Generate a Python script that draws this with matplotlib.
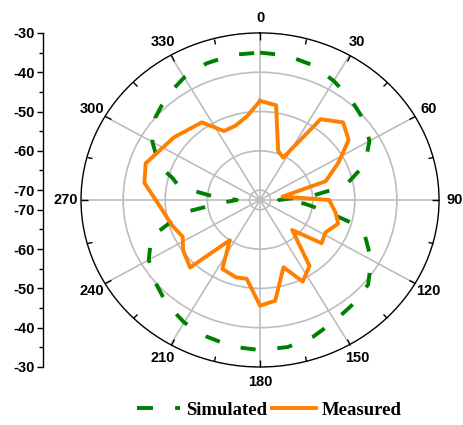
import numpy as np
import matplotlib
matplotlib.use("Agg")
import matplotlib.pyplot as plt
from matplotlib.lines import Line2D

# simulated pattern (deg, dB)
sim_deg = [0, 10, 20, 30, 40, 50, 60, 70, 80, 85, 90, 95, 100, 105, 110, 120,
           130, 140, 150, 160, 170, 180, 190, 200, 210, 220, 230, 240, 250,
           260, 265, 270, 275, 280, 285, 290, 300, 310, 320, 330, 340, 350, 360]
sim_db = [-35, -35.2, -36, -37.5, -39, -40.5, -42.5, -46, -52, -60, -68, -62,
          -57, -50, -46, -42, -39, -38, -37, -35.5, -34.5, -34.3, -34.6, -35.5,
          -36.5, -38, -40, -42, -45, -54, -63, -67, -61, -53, -51, -47, -43,
          -40, -38, -36.5, -35.5, -35, -35]

# measured pattern (deg, dB)
meas_deg = [0, 9, 19, 27, 35, 45, 54, 63, 73, 81, 90, 100, 108, 118, 127, 135,
            145, 154, 162, 172, 180, 189, 196, 207, 215, 224, 235, 243, 253,
            264, 279, 289, 308, 325, 334, 343, 352, 360]
meas_db = [-47.3, -48.1, -59.3, -60.4, -47.4, -44.6, -46.5, -51.6, -56.2, -67.1,
           -56.1, -54.3, -53, -54.9, -54.2, -61.7, -52, -49.4, -54.5, -46.6,
           -45.6, -52.2, -52, -52.8, -60, -48.6, -50.2, -51.9, -50.6, -49.1,
           -44.7, -43.8, -46.6, -48.4, -53, -52.7, -50.9, -47.3]

r_ticks = [-70, -60, -50, -40, -30]
theta_labels = ['0', '30', '60', '90', '120', '150', '180', '210', '240', '270', '300', '330']

R0 = -72.5
RMAX = -30
sans = ['Liberation Sans', 'DejaVu Sans']

fig = plt.figure(figsize=(4.64, 4.25), dpi=100)
ax = fig.add_axes([0.1746, 0.1365, 0.7716, 0.786], projection='polar')
ax.set_theta_zero_location('N')
ax.set_theta_direction(-1)
ax.set_ylim(R0, RMAX)
ax.set_aspect('auto')

ax.plot(np.radians(sim_deg), sim_db, color='#008000', lw=2.8,
        linestyle=(0, (3.9, 5.6)), label='Simulated')
ax.plot(np.radians(meas_deg), meas_db, color='#ff8000', lw=2.8,
        label='Measured')

ax.set_yticks(r_ticks[:-1])
ax.set_yticklabels([])
ax.set_xticks(np.radians(np.arange(0, 360, 30)))
ax.set_xticklabels(theta_labels, fontsize=10.5, fontweight='bold', family=sans)
ax.set_xticks(np.radians(np.arange(15, 360, 30)), minor=True)
ax.tick_params(axis='x', which='both', direction='in', width=1,
               color='black', top=True, bottom=False)
ax.tick_params(axis='x', which='major', length=5, pad=4)
ax.tick_params(axis='x', which='minor', length=4)
ax.grid(True, color='#bdbdbd', lw=1.2)
ax.spines['polar'].set_color('black')
ax.spines['polar'].set_linewidth(1)

# mirrored radial scale on the left
lax = fig.add_axes([43 / 464, 0.1365, 0.001, 0.786])
lax.set_ylim(-(RMAX - R0), RMAX - R0)
pos = [v - R0 for v in r_ticks]
lax.set_yticks(pos + [-p for p in pos])
lax.set_yticklabels([str(v) for v in r_ticks] * 2, fontsize=10.5,
                    fontweight='bold', family=sans)
minor = [v + 5 - R0 for v in r_ticks[:-1]]
lax.set_yticks(minor + [-p for p in minor], minor=True)
lax.tick_params(axis='y', which='major', length=4, width=1, pad=2)
lax.tick_params(axis='y', which='minor', length=3, width=1)
lax.set_xticks([])
for s in ['top', 'right', 'bottom']:
    lax.spines[s].set_visible(False)
lax.spines['left'].set_linewidth(1)
lax.patch.set_visible(False)

handles = [Line2D([], [], color='#008000', lw=2.8, linestyle=(0, (4.1, 5.7))),
           Line2D([], [], color='#ff8000', lw=2.8)]
fig.legend(handles, ['Simulated', 'Measured'], loc='center',
           bbox_to_anchor=(0.58, 0.035), ncol=2, frameon=False,
           handlelength=2.3, handletextpad=0.3, columnspacing=0.3,
           prop={'family': 'Liberation Serif', 'weight': 'bold', 'size': 13.5})

fig.savefig('out.png', dpi=100)
